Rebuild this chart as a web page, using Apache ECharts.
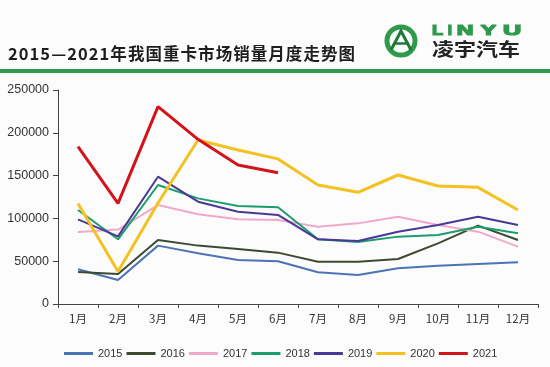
<!DOCTYPE html>
<html>
<head>
<meta charset="utf-8">
<script src="https://cdn.jsdelivr.net/npm/echarts@6/dist/echarts.min.js"></script>
<style>
html,body{margin:0;padding:0;background:#fcfcfd;}
#c{width:550px;height:367px;}
</style>
</head>
<body>
<div id="c"></div>
<script>
var titleText = '2015—2021年我国重卡市场销量月度走势图';
var months = ['1月','2月','3月','4月','5月','6月','7月','8月','9月','10月','11月','12月'];
var years = ['2015','2016','2017','2018','2019','2020','2021'];
var s2015 = [40500, 28000, 68200, 59200, 51400, 50000, 37000, 33900, 41700, 44800, 46700, 48700];
var s2016 = [37400, 35000, 74800, 68200, 64300, 60000, 49400, 49400, 52600, 70900, 91500, 74800];
var s2017 = [84000, 87000, 115600, 104800, 98900, 98100, 90300, 94200, 102000, 92300, 84500, 67000];
var s2018 = [109800, 75600, 139000, 123400, 114500, 113000, 75600, 72500, 78700, 80600, 90300, 82600];
var s2019 = [98900, 79000, 148700, 119500, 107800, 104000, 75600, 73500, 84500, 92300, 102000, 92300];
var s2020 = [117500, 38000, 118000, 191600, 180000, 169500, 139000, 130500, 150700, 137900, 136300, 109800];
var s2021 = [183800, 117600, 230500, 192400, 162400, 153400];
var yTicks = [0, 50000, 100000, 150000, 200000, 250000];

var seriesData = [s2015, s2016, s2017, s2018, s2019, s2020, s2021];
var colors = ['#4a74b6', '#3c4a32', '#f2a9c9', '#1c9e6c', '#4a3897', '#f4c122', '#d2141a'];
var widths = [2, 2, 2, 2, 2, 3, 3];

// title laid out character by character with letter spacing
var titleFont = 'bold 16.5px "Noto Sans CJK SC"';
var cv = document.createElement('canvas').getContext('2d');
cv.font = titleFont;
var chars = titleText.split('');
var ws = chars.map(function (ch) { return cv.measureText(ch).width; });
var totalW = ws.reduce(function (a, b) { return a + b; }, 0);
var titleLeft = 8, titleRight = 355;
var spacing = Math.max(0, (titleRight - titleLeft - totalW) / (chars.length - 1));
var titleGraphics = [];
var cx = titleLeft;
chars.forEach(function (ch, i) {
  titleGraphics.push({ type: 'text', x: cx, y: 53.5, style: { text: ch, font: titleFont, fill: '#1e1e1e', verticalAlign: 'middle' } });
  cx += ws[i] + spacing;
});

var chart = echarts.init(document.getElementById('c'));
var series = years.map(function (y, i) {
  return {
    name: y,
    type: 'line',
    data: seriesData[i],
    showSymbol: false,
    symbol: 'none',
    smooth: false,
    lineStyle: { color: colors[i], width: widths[i] },
    itemStyle: { color: colors[i] },
    z: 2 + i
  };
});

var green = '#2f9a4c';
var logoLetters = [
  { t: 'L', x: 437.5, s: 1.3 },
  { t: 'I', x: 450, s: 1.1 },
  { t: 'N', x: 465, s: 1.65 },
  { t: 'Y', x: 488.5, s: 1.7 },
  { t: 'U', x: 512, s: 1.8 }
];
var logoGraphics = logoLetters.map(function (o) {
  return { type: 'text', x: o.x, y: 31.5, scaleX: o.s, style: { text: o.t, font: 'bold 14px "Liberation Sans"', fill: green, stroke: green, lineWidth: 1.2, align: 'center', verticalAlign: 'middle' } };
});

chart.setOption({
  backgroundColor: '#fcfcfd',
  animation: false,
  grid: { left: 58, right: 12, top: 90, bottom: 63, containLabel: false },
  legend: {
    data: years,
    left: 59,
    top: 343,
    icon: 'rect',
    itemWidth: 29,
    itemHeight: 3,
    itemGap: 4,
    textStyle: { fontFamily: 'Liberation Sans', fontSize: 11, color: '#333' }
  },
  xAxis: {
    type: 'category',
    data: months,
    boundaryGap: true,
    axisLine: { lineStyle: { color: '#444', width: 1 } },
    axisTick: { show: true, interval: 0, length: 4, lineStyle: { color: '#444' } },
    axisLabel: { interval: 0, fontFamily: 'Noto Sans CJK SC', fontSize: 11.5, color: '#333', margin: 9 }
  },
  yAxis: {
    type: 'value',
    min: yTicks[0],
    max: yTicks[yTicks.length - 1],
    interval: 50000,
    axisLine: { show: true, lineStyle: { color: '#444', width: 1 } },
    axisTick: { show: true, length: 5, lineStyle: { color: '#444' } },
    splitLine: { show: false },
    axisLabel: { fontFamily: 'Liberation Sans', fontSize: 12.5, color: '#333', margin: 9, formatter: function (v) { return String(v); } }
  },
  graphic: titleGraphics.concat([
    { type: 'rect', shape: { x: 0, y: 69, width: 550, height: 4 }, style: { fill: green } },
    { type: 'circle', shape: { cx: 401, cy: 41, r: 14 }, style: { fill: 'none', stroke: green, lineWidth: 5 } },
    { type: 'polyline', shape: { points: [[391, 50], [401, 31], [411, 50]] }, style: { fill: 'none', stroke: '#1f7a35', lineWidth: 3 } },
    { type: 'line', shape: { x1: 394, y1: 43.5, x2: 409, y2: 43.5 }, style: { stroke: '#1f7a35', lineWidth: 2.5 } },
    { type: 'text', x: 476, y: 49, scaleX: 1.22, style: { text: '凌宇汽车', font: 'bold 18px "Noto Sans CJK SC"', fill: '#222', align: 'center', verticalAlign: 'middle' } }
  ]).concat(logoGraphics),
  series: series
});
</script>
</body>
</html>
